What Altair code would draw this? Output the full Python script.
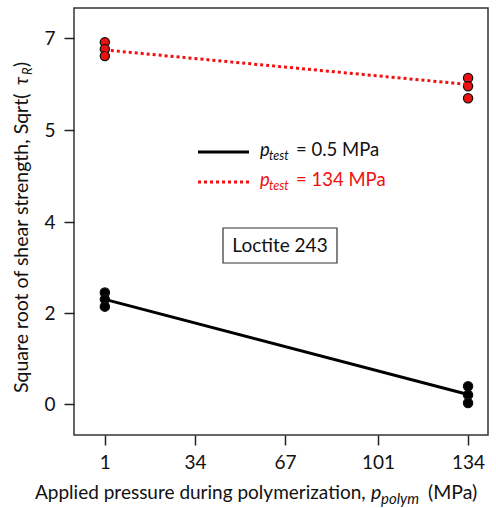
import altair as alt
import pandas as pd

FONT = "Lato"

# ---- data ----
pressure = [1, 134]
black_at_1 = [2.45, 2.30, 2.14]
black_at_134 = [0.39, 0.20, 0.02]
red_at_1 = [6.91, 6.76, 6.61]
red_at_134 = [6.13, 5.95, 5.69]
fit_black = [2.30, 0.21]
fit_red = [6.74, 5.99]
x_ticks = [1, 34, 67, 101, 134]
y_ticks = [0, 2, 4, 5, 7]
series_names = ["0.5 MPa", "134 MPa"]
series_colors = ["#000000", "#f01010"]

pts = pd.DataFrame(
    {
        "p": [pressure[0]] * 3 + [pressure[1]] * 3 + [pressure[0]] * 3 + [pressure[1]] * 3,
        "v": black_at_1 + black_at_134 + red_at_1 + red_at_134,
        "s": [series_names[0]] * 6 + [series_names[1]] * 6,
    }
)
fit = pd.DataFrame(
    {
        "p": pressure + pressure,
        "v": fit_black + fit_red,
        "s": [series_names[0]] * 2 + [series_names[1]] * 2,
    }
)

xs = alt.Scale(domain=[-10.3, 141.3], nice=False, zero=False)
ys = alt.Scale(domain=[0, 2, 4, 5, 7], range=[396, 305, 214, 122, 30], nice=False, zero=False)

xax = alt.Axis(values=x_ticks, title=None, grid=False, domain=False, tickSize=10,
               tickWidth=1.5, tickColor="#222", labelFontSize=19, labelFont=FONT,
               labelColor="#111", labelPadding=8, format="d")
yax = alt.Axis(values=y_ticks, title=None, grid=False, domain=False, tickSize=10,
               tickWidth=1.5, tickColor="#222", labelFontSize=19, labelFont=FONT,
               labelColor="#111", labelPadding=9, format="d")

points = alt.Chart(pts).mark_point(filled=True, size=85, stroke="#111", strokeWidth=1.3, opacity=1).encode(
    x=alt.X("p:Q", scale=xs, axis=xax),
    y=alt.Y("v:Q", scale=ys, axis=yax),
    fill=alt.Fill("s:N", scale=alt.Scale(domain=series_names, range=series_colors), legend=None),
)

line_black = alt.Chart(fit[fit.s == series_names[0]]).mark_line(color=series_colors[0], strokeWidth=3).encode(
    x=alt.X("p:Q", scale=xs), y=alt.Y("v:Q", scale=ys)
)
line_red = alt.Chart(fit[fit.s == series_names[1]]).mark_line(
    color=series_colors[1], strokeWidth=3, strokeDash=[3, 3]
).encode(x=alt.X("p:Q", scale=xs), y=alt.Y("v:Q", scale=ys))

one = pd.DataFrame({"a": [0]})


def txt(t, x, y, size=17, color="#111", italic=False, align="left", angle=0, baseline="middle"):
    kw = dict(fontSize=size, font=FONT, color=color, align=align, baseline=baseline)
    if italic:
        kw["fontStyle"] = "italic"
    if angle:
        kw["angle"] = angle
    return alt.Chart(one).mark_text(**kw).encode(
        x=alt.value(x), y=alt.value(y), text=alt.value(t)
    )


def rule(x1, x2, y, color, dash=None):
    kw = dict(color=color, strokeWidth=3)
    if dash:
        kw["strokeDash"] = dash
    return alt.Chart(one).mark_rule(**kw).encode(x=alt.value(x1), x2=alt.value(x2), y=alt.value(y))


legend = [
    rule(124, 175, 144, series_colors[0]),
    txt("p", 186, 142, size=18.5, italic=True),
    txt("test", 195, 148, size=12.5, italic=True),
    txt("= 0.5 MPa", 222, 142, size=18.5),
    rule(124, 175, 174, series_colors[1], dash=[3, 3]),
    txt("p", 186, 172, size=18.5, italic=True, color=series_colors[1]),
    txt("test", 195, 178, size=12.5, italic=True, color=series_colors[1]),
    txt("= 134 MPa", 222, 172, size=18.5, color=series_colors[1]),
]

box = alt.Chart(one).mark_rect(fill="white", stroke="#333", strokeWidth=1.2).encode(
    x=alt.value(149), x2=alt.value(263), y=alt.value(220), y2=alt.value(255)
)
box_text = txt("Loctite 243", 206, 238, size=19, align="center")

xtitle = [
    txt("Applied pressure during polymerization,", -39, 485, size=19),
    txt("p", 297, 485, size=19.5, italic=True),
    txt("polym", 307, 491, size=15, italic=True),
    txt("(MPa)", 354, 485, size=19.5),
]
ytitle = [
    txt("Square root of shear strength, Sqrt(", -52, 385, size=19.5, angle=270),
    txt("τ", -52, 77, size=19, angle=270, italic=True),
    txt("R", -46, 67, size=13, angle=270, italic=True),
    txt(")", -52, 59, size=19, angle=270),
]

chart = alt.layer(
    points, line_black, line_red, *legend, box, box_text, *xtitle, *ytitle
).properties(
    width=414,
    height=427,
    autosize=alt.AutoSizeParams(type="none"),
    padding={"left": 74, "top": 8, "right": 8, "bottom": 73},
    background="white",
).configure_view(stroke="#333", strokeWidth=1.5)

chart.save("out.html", embed_options={"renderer": "svg", "actions": False})
